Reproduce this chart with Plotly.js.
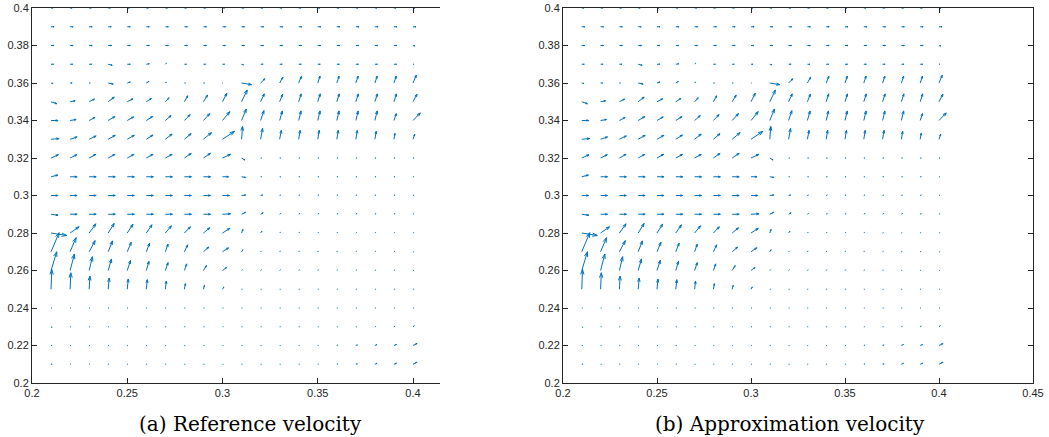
<!DOCTYPE html>
<html>
<head>
<meta charset="utf-8">
<script src="https://cdn.plot.ly/plotly-3.0.1.min.js"></script>
<style>html,body{margin:0;padding:0;background:#fff;}#chart{width:1049px;height:437px;}</style>
</head>
<body>
<div id="chart"></div>
<script>
// Grid positions (columns left->right, rows top->bottom)
const xs = [0.21,0.22,0.23,0.24,0.25,0.26,0.27,0.28,0.29,0.30,0.31,0.32,0.33,0.34,0.35,0.36,0.37,0.38,0.39,0.40];
const ys = [0.40,0.39,0.38,0.37,0.36,0.35,0.34,0.33,0.32,0.31,0.30,0.29,0.28,0.27,0.26,0.25,0.24,0.23,0.22,0.21];

// Reference velocity, x component (one row per y value, top to bottom)
const uRef = [
 [2,2,2,2,2,2,2,2,2,2,2,2,2,2,2,2,2,2,2,2],
 [3,3,3,3,3,3,3,3,3,3,3,3,3,3,3,3,3,3,3,3],
 [3,3,3,3.5,3,3,3,3,3,3,3,3,3,3,3,3,3,3,3,2],
 [2.5,2.5,2.5,4,3,3,1,2,2,2,2,2.5,2.5,2.5,2.5,2.5,2.5,2.5,2.5,1],
 [2,2,1,5,3,2.5,1,1,1,0.5,10,4.3,3.3,2.7,2.3,2.3,2.3,2.3,2.3,3.3],
 [5.7,5,5.3,6,5.7,5,3.7,3.3,4,4.3,5.7,3.7,3,2.5,2.5,2.5,2.5,2.5,2.5,4],
 [7,6,5.7,6.7,6.3,6.3,5.7,5.7,6.3,7.3,4.7,3.3,2.7,2.3,2.3,2.3,2.3,2.3,2.3,7.3],
 [8,7,7,7,7,6.7,6.7,6.7,8,12,1,2,1.7,1.5,1.5,1.5,1.5,1.3,1,1.7],
 [7.3,6.7,6.7,6.7,6.7,6.7,6.7,6.7,7,8,3.3,1,1,1,1,1,1,1,1,1],
 [6.7,7,7,7,7,7,7,7,7,6,4,1,1,1,1,1,1,1,1,0.8],
 [7,7,7,7,7,7,7,7,7,7,4,2,1,1,1,1,1,1,1,0.8],
 [7,7,7,7,7,7,7,7,7,8,4,2.5,1,1,1,1,1,1,1,0.8],
 [15.7,9,6.7,6,5.7,5.7,6,6,6.3,7.3,1.3,1.3,0.7,0.7,0.7,0.7,0.7,0.7,0.7,0.7],
 [8,6,6,4.3,4,3.3,2.7,3.3,5.3,6,1.3,0.7,0.7,0.7,0.7,0.7,0.7,0.7,0.7,0.7],
 [5.7,4.3,3.3,3.3,3.3,2.7,2.7,2.3,3,4,0.7,0.7,0.7,0.7,0.7,0.7,0.7,0.7,0.7,0.7],
 [0.7,0.7,0.7,1,1,1,1,1,1,1.3,0.7,0.7,0.7,0.7,0.7,0.7,0.7,0.7,0.7,0.7],
 [0.7,0.7,0.7,0.7,0.7,0.7,0.7,0.7,0.7,0.7,0.7,0.7,0.7,0.7,0.7,0.7,0.7,0.7,0.7,0.7],
 [1,0.7,0.7,0.7,0.7,0.7,0.7,0.7,0.7,0.7,0.7,0.7,0.7,0.7,0.7,0.7,0.7,0.8,1,1.3],
 [1,0.7,0.7,0.7,0.7,0.7,0.7,0.7,0.7,0.7,0.7,0.7,0.7,0.7,0.7,1,1.5,2,2.5,4],
 [1,0.7,0.7,0.7,0.7,0.7,0.7,0.7,0.7,0.7,0.7,0.7,0.7,0.7,0.7,1,1.5,2,2.5,4]
];
// Reference velocity, y component
const vRef = [
 [0,0,0,0,0,0,0,0,0,0,0,0,0,0,0,0,0,0,0,0],
 [0,0,0,0,0,0,0,0,0,0,0,0,0,0,0,0,0,0,0,0],
 [0,0,0,0,0,0,0,0,0,0,0,0,0,0,0,0,0,0,0,-0.5],
 [0,0,0,-1,0,0.5,1,0,0,0,-0.5,0,0,0,0,0,0,0,0,0],
 [-0.5,0,0,-1,1,1.5,1,0,0,0,-1.7,4.3,6,6.7,7,7,7,7,7,8],
 [-2,1,2.7,4.7,3,3.3,4,6,6.7,8.7,12,8,7.7,8,8,8,8,8,8,7.7],
 [0,1,3,4,3.7,4,5,6,7,9,11.7,10,9.7,9.7,9.7,9.7,9.7,9.7,7,7.7],
 [0.7,2.3,3.3,4,4,4.3,5.3,5.7,6.7,8,13,11,9,9,9,9,9,8,6,5],
 [3.3,3.3,3.7,3.7,3.7,3.7,3.7,4.7,4.7,3.7,-2,0,0,0,0,0,0,0,0,0],
 [1.7,0,0,0,0,0,0,0,0,0,-0.7,0,0,0,0,0,0,0,0,0],
 [0,0,0,0,0,0,0,0,0,0,0.5,0.5,0.5,0.5,0.5,0.5,0.5,0.5,0.5,0.3],
 [-1,0,0,0,0,0,0,0,0,0.5,2,1.5,0.7,0.7,0.7,0.7,0.7,0.7,0.7,0.5],
 [-2.5,6.3,9.3,9.7,9,8.3,7.3,6.3,5.3,4.7,3.7,1.7,0.7,0.7,0.7,0.7,0.5,0.5,0.5,0.3],
 [19.3,14.3,11.3,11,9.7,8.7,7.7,7,4.7,4,2,0.7,0.7,0.7,0.7,0.7,0.5,0.5,0.3,0],
 [19,16.7,14,11.7,10.3,9.3,8,6.7,5,3,0.7,0.7,0.7,0.7,0.7,0.5,0.5,0.3,0.3,0],
 [20,16.7,13.3,11.3,10.3,9.7,8.3,5.7,4,2.3,0,0,0,0,0,0,0,0,0,0],
 [0,0,0,0,0,0,0,0,0,0,0,0,0,0,0,0,0,0,0,0],
 [-0.7,0,0,0,0,0,0,0,0,0,0,0,0,0,0,0,0,0.3,0.5,1],
 [0,0,0,0,0,0,0,0,0,0,0,0,0,0,0,0.3,0.5,1,1,2],
 [0,0,0,0,0,0,0,0,0,0,0,0,0,0,0,0.3,0.5,1,1,2]
];
// Approximation velocity (visually indistinguishable from the reference)
const uApprox = uRef.map(r => r.slice());
const vApprox = vRef.map(r => r.slice());

const xTickVals = [0.2,0.25,0.3,0.35,0.4];
const xTickText = ['0.2','0.25','0.3','0.35','0.4'];
const x2TickVals = [0.2,0.25,0.3,0.35,0.4,0.45];
const x2TickText = ['0.2','0.25','0.3','0.35','0.4','0.45'];
const yTickVals = [0.2,0.22,0.24,0.26,0.28,0.3,0.32,0.34,0.36,0.38,0.4];
const yTickText = ['0.2','0.22','0.24','0.26','0.28','0.3','0.32','0.34','0.36','0.38','0.4'];
const captions = ['(a) Reference velocity','(b) Approximation velocity'];

// quiver scale (velocity units -> axis units)
const S = 1/1900;
function quiver(U, V, xa, ya) {
  const X = [], Y = [];
  const alpha = 0.33, beta = 0.33, maxHead = 5*S;
  for (let r = 0; r < ys.length; r++) {
    for (let c = 0; c < xs.length; c++) {
      const x0 = xs[c], y0 = ys[r];
      const dx = U[r][c]*S, dy = V[r][c]*S;
      const tx = x0+dx, ty = y0+dy;
      X.push(x0, tx, null); Y.push(y0, ty, null);
      const L = Math.hypot(dx, dy);
      if (L > 0) {
        const f = Math.min(alpha, maxHead/L);
        X.push(tx - f*(dx + beta*dy), tx, tx - f*(dx - beta*dy), null);
        Y.push(ty - f*(dy - beta*dx), ty, ty - f*(dy + beta*dx), null);
      }
    }
  }
  return {type:'scatter', mode:'lines', x:X, y:Y, xaxis:xa, yaxis:ya,
          line:{color:'#0072BD', width:1}, hoverinfo:'skip', connectgaps:false};
}

const W = 1049, H = 437;
const axCol = '#262626';
const tickFont = {family:'Liberation Sans, Arial, sans-serif', size:11, color:axCol};
const common = {showgrid:false, zeroline:false, showline:true, linecolor:axCol, linewidth:1,
  ticks:'inside', ticklen:5, tickcolor:axCol, tickwidth:1, tickfont:tickFont, fixedrange:true};
const yDom = [(H-383)/H, (H-8)/H];
const capFont = {family:'DejaVu Serif', size:20, color:'#000'};

const layout = {
  width:W, height:H, margin:{l:0,r:0,t:0,b:0}, showlegend:false,
  paper_bgcolor:'#fff', plot_bgcolor:'#fff',
  xaxis: Object.assign({}, common, {domain:[32/W, 440/W], range:[0.2, 0.2+408/1905],
    tickmode:'array', tickvals:xTickVals, ticktext:xTickText, mirror:'ticks', anchor:'y'}),
  yaxis: Object.assign({}, common, {domain:yDom, range:[0.2,0.4],
    tickmode:'array', tickvals:yTickVals, ticktext:yTickText, mirror:false, anchor:'x'}),
  xaxis2: Object.assign({}, common, {domain:[563/W, 1033/W], range:[0.2,0.45],
    tickmode:'array', tickvals:x2TickVals, ticktext:x2TickText, mirror:'ticks', anchor:'y2'}),
  yaxis2: Object.assign({}, common, {domain:yDom, range:[0.2,0.4],
    tickmode:'array', tickvals:yTickVals, ticktext:yTickText, mirror:'ticks', anchor:'x2'}),
  annotations: [
    {text:captions[0], xref:'paper', yref:'paper', x:250/W, y:(H-424)/H, xanchor:'center', yanchor:'middle',
     showarrow:false, font:capFont},
    {text:captions[1], xref:'paper', yref:'paper', x:790/W, y:(H-424)/H, xanchor:'center', yanchor:'middle',
     showarrow:false, font:capFont}
  ]
};

Plotly.newPlot('chart', [quiver(uRef, vRef, 'x', 'y'), quiver(uApprox, vApprox, 'x2', 'y2')], layout,
  {staticPlot:true, displayModeBar:false});
</script>
</body>
</html>
